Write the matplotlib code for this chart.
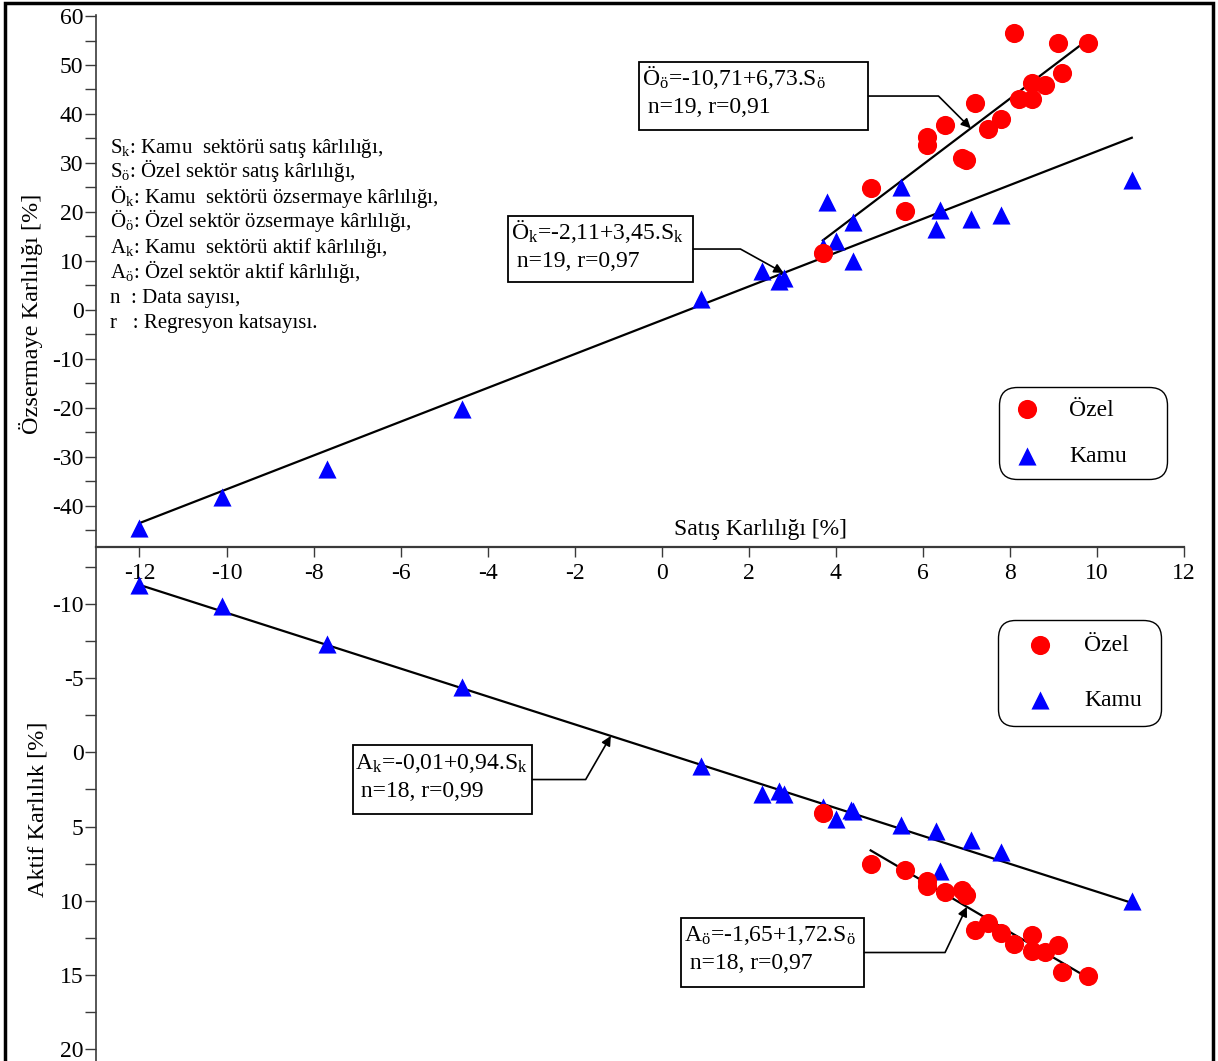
import matplotlib

matplotlib.use("Agg")

import matplotlib.pyplot as plt
import numpy as np
from matplotlib.patches import Rectangle
from matplotlib.ticker import FixedLocator, MultipleLocator

plt.rcParams["font.family"] = ["Liberation Serif", "DejaVu Serif"]
plt.rcParams["mathtext.fontset"] = "custom"
plt.rcParams["mathtext.rm"] = "Liberation Serif"
plt.rcParams["mathtext.it"] = "Liberation Serif:italic"
plt.rcParams["mathtext.default"] = "regular"
plt.rcParams["axes.unicode_minus"] = False

# --- data ------------------------------------------------------------------
# top panel: sales profitability (x) vs equity profitability
kamu_s_oz = [-12.0, -10.1, -7.7, -4.6, 0.9, 2.3, 2.7, 2.8, 3.7, 3.8,
             4.0, 4.4, 4.4, 5.5, 6.3, 6.4, 7.1, 7.8, 10.8]
kamu_oz = [-44.5, -38.2, -32.4, -20.2, 2.2, 7.9, 6.0, 6.5, 12.8, 22.0,
           14.0, 17.9, 9.9, 25.0, 16.6, 20.5, 18.5, 19.4, 26.6]
ozel_s_oz = [3.7, 4.8, 5.6, 6.1, 6.1, 6.5, 6.9, 7.0, 7.2, 7.5,
             7.8, 8.1, 8.2, 8.5, 8.5, 8.8, 9.1, 9.2, 9.8]
ozel_oz = [11.6, 24.8, 20.2, 33.7, 35.4, 37.7, 31.1, 30.6, 42.2, 37.0,
           39.0, 56.5, 43.0, 46.4, 43.0, 46.0, 54.4, 48.4, 54.4]

# bottom panel: sales profitability (x) vs asset profitability
kamu_s_ak = [-12.0, -10.1, -7.7, -4.6, 0.9, 2.3, 2.7, 2.8, 3.7,
             4.0, 4.35, 4.4, 5.5, 6.3, 6.4, 7.1, 7.8, 10.8]
kamu_ak = [-11.3, -9.9, -7.3, -4.4, 0.9, 2.8, 2.6, 2.8, 3.7,
           4.5, 3.85, 3.95, 4.9, 5.3, 8.0, 5.9, 6.7, 10.0]
ozel_s_ak = [3.7, 4.8, 5.6, 6.1, 6.1, 6.5, 6.9, 7.0, 7.2,
             7.5, 7.8, 8.1, 8.5, 8.5, 8.8, 9.1, 9.2, 9.8]
ozel_ak = [4.1, 7.5, 7.9, 8.7, 9.0, 9.4, 9.3, 9.6, 12.0,
           11.5, 12.2, 12.9, 12.3, 13.4, 13.45, 13.0, 14.8, 15.1]

# regression lines: intercept, slope, x start, x end
reg_kamu_oz = (-2.11, 3.45, -12.0, 10.8)
reg_ozel_oz = (-10.71, 6.73, 3.7, 9.65)
reg_kamu_ak = (-0.01, 0.94, -12.0, 10.8)
reg_ozel_ak = (-1.65, 1.72, 4.8, 9.65)

x_ticks = [-12, -10, -8, -6, -4, -2, 0, 2, 4, 6, 8, 10, 12]

RED = "#ff0000"
BLUE = "#0000ff"
AXC = "#3a3a3a"
FS = 17

fig = plt.figure(figsize=(12.18, 10.61), dpi=100)
ax1 = fig.add_axes([0.0788, 0.4844, 0.8933, 0.5019])
ax2 = fig.add_axes([0.0788, 0.0, 0.8933, 0.4844])
for ax in (ax1, ax2):
    ax.patch.set_visible(False)
    ax.set_xlim(-13, 12)
    for side in ("top", "right"):
        ax.spines[side].set_visible(False)
    ax.spines["left"].set_color(AXC)
    ax.spines["left"].set_linewidth(1.2)
    ax.tick_params(axis="y", which="both", direction="out", length=8, width=1.0,
                   color=AXC, labelsize=FS, pad=1.0)

ax1.spines["bottom"].set_color(AXC)
ax1.spines["bottom"].set_linewidth(1.6)
ax1.set_ylim(-48.4, 60.3)
ax1.yaxis.set_major_locator(FixedLocator([-40, -30, -20, -10, 0, 10, 20, 30, 40, 50, 60]))
ax1.yaxis.set_minor_locator(FixedLocator([-45, -35, -25, -15, -5, 5, 15, 25, 35, 45, 55]))
ax1.set_xticks(x_ticks)
ax1.set_xticklabels([str(t) for t in x_ticks])
ax1.tick_params(axis="x", direction="out", length=7, width=1.0, color=AXC,
                labelsize=FS, pad=4.5)

ax2.spines["bottom"].set_visible(False)
ax2.set_ylim(20.8, -13.84)
ax2.yaxis.set_major_locator(MultipleLocator(5))
ax2.yaxis.set_minor_locator(MultipleLocator(2.5))
ax2.set_xticks([])


def reg_line(ax, params):
    a, b, x0, x1 = params
    xs = np.array([x0, x1])
    ax.plot(xs, a + b * xs, color="black", lw=1.6, zorder=2)


for ax, rk, ro in ((ax1, reg_kamu_oz, reg_ozel_oz), (ax2, reg_kamu_ak, reg_ozel_ak)):
    reg_line(ax, rk)
    reg_line(ax, ro)

ax1.scatter(kamu_s_oz, kamu_oz, marker="^", s=170, color=BLUE, lw=0, zorder=3, label="Kamu")
ax1.scatter(ozel_s_oz, ozel_oz, marker="o", s=190, color=RED, lw=0, zorder=4, label="Özel")
ax2.scatter(kamu_s_ak, kamu_ak, marker="^", s=170, color=BLUE, lw=0, zorder=3, label="Kamu")
ax2.scatter(ozel_s_ak, ozel_ak, marker="o", s=190, color=RED, lw=0, zorder=4, label="Özel")


def eq_box(ax, x0, x1, ytop, ybot, line1, line2, b1, b2, tip_x, reg, ang):
    ax.add_patch(Rectangle((x0, ybot), x1 - x0, ytop - ybot, transform=ax.transAxes,
                           fc="white", ec="black", lw=1.3, zorder=5))
    ax.text(x0 + 0.002, b1, line1, transform=ax.transAxes, fontsize=FS,
            va="baseline", ha="left", zorder=6)
    ax.text(x0 + 0.002, b2, line2, transform=ax.transAxes, fontsize=FS,
            va="baseline", ha="left", zorder=6)
    a, b = reg[0], reg[1]
    ax.annotate("", xy=(tip_x, a + b * tip_x), xycoords="data",
                xytext=(x1, (ytop + ybot) / 2), textcoords="axes fraction",
                arrowprops=dict(arrowstyle="-|>", color="black", lw=1.2,
                                shrinkA=0, shrinkB=0, mutation_scale=14,
                                connectionstyle=f"angle,angleA=0,angleB={ang},rad=0"),
                zorder=6)


eq_box(ax1, 0.4995, 0.710, 0.9108, 0.7831,
       "Ö$_ö$=-10,71+6,73.S$_ö$", " n=19, r=0,91", 0.867, 0.815, 7.1, reg_ozel_oz, -45)
eq_box(ax1, 0.379, 0.549, 0.6216, 0.4977,
       "Ö$_k$=-2,11+3,45.S$_k$", " n=19, r=0,97", 0.578, 0.526, 2.8, reg_kamu_oz, -29)
eq_box(ax2, 0.2358, 0.4012, 0.6148, 0.4805,
       "A$_k$=-0,01+0,94.S$_k$", " n=18, r=0,99", 0.568, 0.514, -1.17, reg_kamu_ak, 60)
eq_box(ax2, 0.538, 0.7063, 0.2782, 0.144,
       "A$_ö$=-1,65+1,72.S$_ö$", " n=18, r=0,97", 0.233, 0.179, 7.01, reg_ozel_ak, 64.5)

# legends: (x0, top, width), labelspacing, borderpad, handlelength, handletextpad
leg_specs = [
    (ax1, (0.8304, 0.3005, 0.1535), 1.06, 0.51, 1.35, 1.10),
    (ax2, (0.8286, 0.858, 0.1498), 1.42, 0.63, 2.31, 0.72),
]
for ax, (lx, ltop, lw_), spacing, bpad, hlen, htp in leg_specs:
    h, l = ax.get_legend_handles_labels()
    leg = ax.legend(h[::-1], l[::-1], loc="upper left",
                    bbox_to_anchor=(lx, ltop - 0.2, lw_, 0.2), mode="expand",
                    fontsize=FS, frameon=True, fancybox=True, borderaxespad=0,
                    labelspacing=spacing, handletextpad=htp, handlelength=hlen,
                    borderpad=bpad, scatterpoints=1)
    fr = leg.get_frame()
    fr.set_edgecolor("black")
    fr.set_linewidth(1.0)
    fr.set_alpha(1)
    fr.set_boxstyle("round,pad=0,rounding_size=0.75")

notes = [
    "S$_k$: Kamu  sektörü satış kârlılığı,",
    "S$_ö$: Özel sektör satış kârlılığı,",
    "Ö$_k$: Kamu  sektörü özsermaye kârlılığı,",
    "Ö$_ö$: Özel sektör özsermaye kârlılığı,",
    "A$_k$: Kamu  sektörü aktif kârlılığı,",
    "A$_ö$: Özel sektör aktif kârlılığı,",
    "n  : Data sayısı,",
    "r   : Regresyon katsayısı.",
]
for i, line in enumerate(notes):
    fig.text(110 / 1218, 1 - (152.5 + 25 * i) / 1061, line, fontsize=15,
             ha="left", va="baseline")

fig.text(31 / 1218, 1 - 314 / 1061, "Özsermaye Karlılığı [%]", rotation=90,
         fontsize=17.5, ha="center", va="center")
fig.text(38 / 1218, 1 - 809 / 1061, "Aktif Karlılık [%]", rotation=90,
         fontsize=17.5, ha="center", va="center")
fig.text(760 / 1218, 1 - 530 / 1061, "Satış Karlılığı [%]", fontsize=17,
         ha="center", va="center")

fig.patches.append(Rectangle((0.004, -0.02), 0.992, 1.017, transform=fig.transFigure,
                             fill=False, ec="black", lw=2.5))

fig.savefig("out.png", dpi=100)
plt.close(fig)
